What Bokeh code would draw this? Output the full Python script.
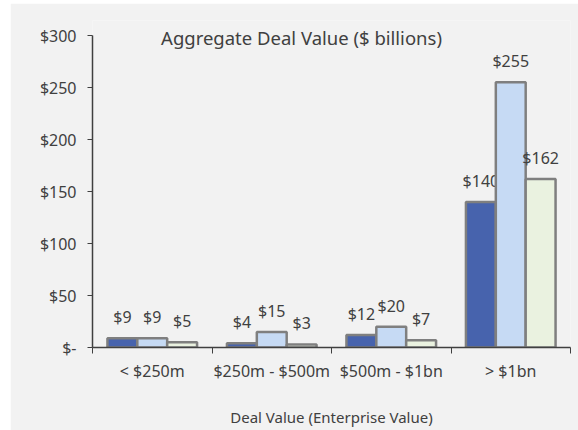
import numpy as np
from bokeh.plotting import figure
from bokeh.models import ColumnDataSource, FixedTicker, Label, Range1d
from bokeh.core.properties import value
from bokeh.embed import file_html
from bokeh.resources import INLINE

categories = ["< $250m", "$250m - $500m", "$500m - $1bn", "> $1bn"]
series1 = [9, 4, 12, 140]
series2 = [9, 15, 20, 255]
series3 = [5, 3, 7, 162]
colors = ["#4763ad", "#c6daf4", "#eaf2e0"]
y_ticks = [0, 50, 100, 150, 200, 250, 300]
y_tick_labels = ["$-", "$50", "$100", "$150", "$200", "$250", "$300"]
title_text = "Aggregate Deal Value ($ billions)"
x_title = "Deal Value (Enterprise Value)"

FONT = "Noto Sans"
TXT = "#404040"
BG = "#f2f2f2"

Y_MAX = 300
FRAME_H = 327          # frame height in px; 312 px correspond to 0..300
y_end = Y_MAX * FRAME_H / 312.0

p = figure(width=568, height=427, output_backend="svg", toolbar_location=None,
           x_range=Range1d(0, len(categories)), y_range=Range1d(0, y_end),
           min_border_left=82, min_border_right=8, min_border_top=17, min_border_bottom=83)
p.margin = (3, 0, 0, 10)
p.background_fill_color = BG
p.border_fill_color = BG
p.outline_line_color = None
p.grid.visible = False

centers = np.arange(len(categories)) + 0.5
offsets = [-0.25, 0.0, 0.25]
for vals, off, col in zip([series1, series2, series3], offsets, colors):
    src = ColumnDataSource(dict(x=centers + off, top=vals,
                                label=["$%g" % v for v in vals]))
    p.vbar(x="x", top="top", width=0.25, bottom=0, source=src,
           fill_color=col, line_color="#7f7f7f", line_width=2.5)
    p.text(x="x", y="top", text="label", source=src, text_align="center",
           text_baseline="middle", y_offset=-21, text_font=value(FONT),
           text_font_size="16px", text_color=TXT)

# x axis
xa = p.xaxis[0]
xa.ticker = FixedTicker(ticks=list(centers), minor_ticks=list(range(len(categories) + 1)))
xa.major_label_overrides = {float(c): n for c, n in zip(centers, categories)}
xa.major_tick_out = 0
xa.major_tick_in = 0
xa.minor_tick_out = 6
xa.minor_tick_in = 0
xa.minor_tick_line_color = TXT
xa.axis_line_color = TXT
xa.axis_line_width = 1.5
xa.major_label_text_font = FONT
xa.major_label_text_font_size = "16px"
xa.major_label_text_color = TXT
xa.major_label_standoff = 6
xa.axis_label = x_title
xa.axis_label_text_font = FONT
xa.axis_label_text_font_size = "15px"
xa.axis_label_text_font_style = "normal"
xa.axis_label_text_color = TXT
xa.axis_label_standoff = 22

ya = p.yaxis[0]
ya.ticker = FixedTicker(ticks=y_ticks, minor_ticks=[])
ya.bounds = (0, Y_MAX)
ya.major_label_overrides = {t: l for t, l in zip(y_ticks, y_tick_labels)}
ya.major_tick_out = 5
ya.major_tick_in = 0
ya.major_tick_line_color = TXT
ya.axis_line_color = TXT
ya.axis_line_width = 1.5
ya.major_label_text_font = FONT
ya.major_label_text_font_size = "16px"
ya.major_label_text_color = TXT
ya.major_label_standoff = 11

p.add_layout(Label(x=209, y=310, x_units="screen", y_units="screen", text=title_text,
                   text_align="center", text_baseline="middle", text_font=FONT,
                   text_font_size="18.5px", text_color=TXT))

open("out.html", "w").write(file_html(p, INLINE))
